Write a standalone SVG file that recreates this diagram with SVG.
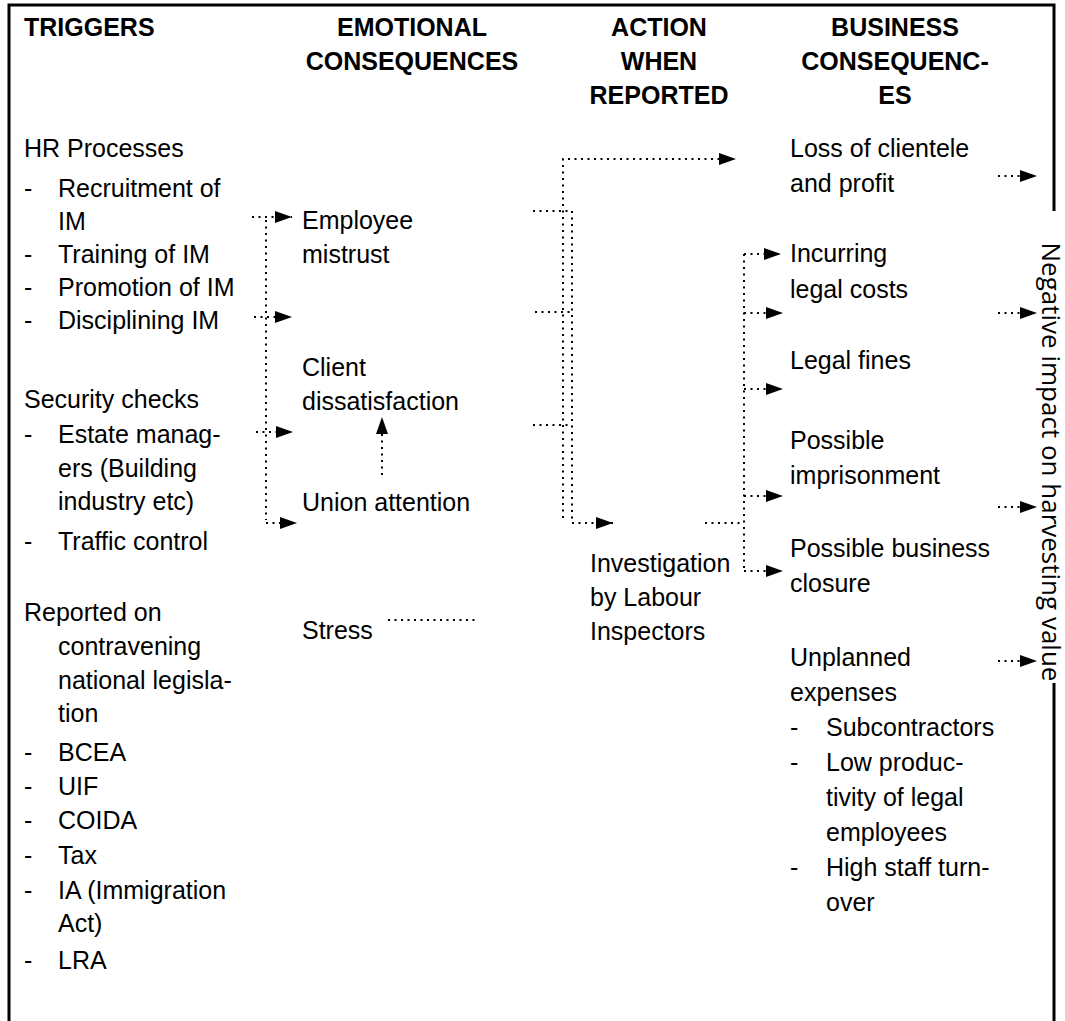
<svg xmlns="http://www.w3.org/2000/svg" width="1065" height="1021" viewBox="0 0 1065 1021">
<style>
text{font-family:"Liberation Sans",Arial,sans-serif;font-size:25px;fill:#000}
.h{font-weight:bold;text-anchor:middle}
.d{fill:none;stroke:#000;stroke-width:2;stroke-dasharray:2 4.5}
.b{fill:none;stroke:#000;stroke-width:3}
.v{font-family:"Open Sans","Noto Sans",sans-serif;font-size:26px}
</style>
<defs>
<marker id="ah" markerUnits="userSpaceOnUse" markerWidth="18" markerHeight="12" refX="17" refY="6" orient="auto">
<path d="M0,0 L17,6 L0,12 z" fill="#000"/>
</marker>
</defs>
<rect width="1065" height="1021" fill="#fff"/>
<path class="b" d="M9,1021 V5 H1054 V211 M1054,683 V1021"/>
<g id="headers">
<text x="24" y="36" style="font-weight:bold">TRIGGERS</text>
<text class="h" x="412" y="36">EMOTIONAL</text>
<text class="h" x="412" y="70">CONSEQUENCES</text>
<text class="h" x="659" y="36">ACTION</text>
<text class="h" x="659" y="70">WHEN</text>
<text class="h" x="659" y="104">REPORTED</text>
<text class="h" x="895" y="36">BUSINESS</text>
<text class="h" x="895" y="70">CONSEQUENC-</text>
<text class="h" x="895" y="104">ES</text>
</g>
<g id="hr-processes">
<text x="24" y="157">HR Processes</text>
<text x="24" y="197">-</text><text x="58" y="197">Recruitment of</text>
<text x="58" y="230">IM</text>
<text x="24" y="263">-</text><text x="58" y="263">Training of IM</text>
<text x="24" y="296">-</text><text x="58" y="296">Promotion of IM</text>
<text x="24" y="329">-</text><text x="58" y="329">Disciplining IM</text>
</g>
<g id="security-checks">
<text x="24" y="408">Security checks</text>
<text x="24" y="443">-</text><text x="58" y="443">Estate manag-</text>
<text x="58" y="477">ers (Building</text>
<text x="58" y="510">industry etc)</text>
<text x="24" y="550">-</text><text x="58" y="550">Traffic control</text>
</g>
<g id="reported">
<text x="24" y="621">Reported on</text>
<text x="58" y="655">contravening</text>
<text x="58" y="689">national legisla-</text>
<text x="58" y="722">tion</text>
<text x="24" y="761">-</text><text x="58" y="761">BCEA</text>
<text x="24" y="795">-</text><text x="58" y="795">UIF</text>
<text x="24" y="829">-</text><text x="58" y="829">COIDA</text>
<text x="24" y="864">-</text><text x="58" y="864">Tax</text>
<text x="24" y="899">-</text><text x="58" y="899">IA (Immigration</text>
<text x="58" y="932">Act)</text>
<text x="24" y="969">-</text><text x="58" y="969">LRA</text>
</g>
<g id="employee-mistrust">
<text x="302" y="229">Employee</text>
<text x="302" y="263">mistrust</text>
</g>
<g id="client-dissatisfaction">
<text x="302" y="376">Client</text>
<text x="302" y="410">dissatisfaction</text>
</g>
<g id="union-attention">
<text x="302" y="511">Union attention</text>
</g>
<g id="stress">
<text x="302" y="639">Stress</text>
</g>
<g id="investigation">
<text x="590" y="572">Investigation</text>
<text x="590" y="606">by Labour</text>
<text x="590" y="640">Inspectors</text>
</g>
<g id="loss-of-clientele">
<text x="790" y="157">Loss of clientele</text>
<text x="790" y="192">and profit</text>
</g>
<g id="legal-costs">
<text x="790" y="262">Incurring</text>
<text x="790" y="298">legal costs</text>
</g>
<g id="legal-fines">
<text x="790" y="369">Legal fines</text>
</g>
<g id="imprisonment">
<text x="790" y="449">Possible</text>
<text x="790" y="484">imprisonment</text>
</g>
<g id="business-closure">
<text x="790" y="557">Possible business</text>
<text x="790" y="592">closure</text>
</g>
<g id="unplanned-expenses">
<text x="790" y="666">Unplanned</text>
<text x="790" y="701">expenses</text>
<text x="790" y="736">-</text><text x="826" y="736">Subcontractors</text>
<text x="790" y="771">-</text><text x="826" y="771">Low produc-</text>
<text x="826" y="806">tivity of legal</text>
<text x="826" y="841">employees</text>
<text x="790" y="876">-</text><text x="826" y="876">High staff turn-</text>
<text x="826" y="911">over</text>
</g>
<g id="negative-impact">
<text class="v" transform="translate(1042,462) rotate(90)" text-anchor="middle">Negative impact on harvesting value</text>
</g>
<g id="connectors">
<path class="d" d="M266,220 V520"/>
<path class="d" d="M252,217 H292" marker-end="url(#ah)"/>
<path class="d" d="M254,317 H292" marker-end="url(#ah)"/>
<path class="d" d="M256,432 H293" marker-end="url(#ah)"/>
<path class="d" d="M266,523 H297" marker-end="url(#ah)"/>
<path class="d" d="M382,475 V417" marker-end="url(#ah)"/>
<path class="d" d="M388,620 H475"/>
<path class="d" d="M533,211 H572"/>
<path class="d" d="M535,312 H572"/>
<path class="d" d="M533,425 H572"/>
<path class="d" d="M563,518 V159 H736" marker-end="url(#ah)"/>
<path class="d" d="M572,211 V523 H613" marker-end="url(#ah)"/>
<path class="d" d="M705,523 H744"/>
<path class="d" d="M744,254 V571"/>
<path class="d" d="M744,254 H781" marker-end="url(#ah)"/>
<path class="d" d="M744,313 H783" marker-end="url(#ah)"/>
<path class="d" d="M744,389 H783" marker-end="url(#ah)"/>
<path class="d" d="M744,496 H783" marker-end="url(#ah)"/>
<path class="d" d="M744,571 H783" marker-end="url(#ah)"/>
<path class="d" d="M998,176 H1037" marker-end="url(#ah)"/>
<path class="d" d="M998,313 H1037" marker-end="url(#ah)"/>
<path class="d" d="M998,507 H1037" marker-end="url(#ah)"/>
<path class="d" d="M998,661 H1037" marker-end="url(#ah)"/>
</g>
</svg>
